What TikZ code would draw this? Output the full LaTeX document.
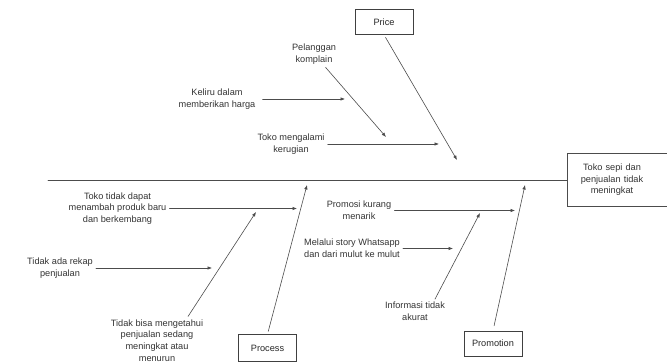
\documentclass[tikz,border=0pt]{standalone}
\usepackage{fontspec}
\setmainfont{Liberation Sans}
\usetikzlibrary{arrows.meta}

\begin{document}
\begin{tikzpicture}[x=1pt,y=-1pt,>={Latex[length=4.5pt,width=3.5pt]},
  font=\fontsize{9.2}{11.6}\selectfont,line cap=round,
  bone/.style={draw=black!70,line width=0.6pt},
  cause/.style={align=center,text=black!80,inner sep=3pt},
  catbox/.style={draw=black!75,line width=0.6pt,text=black!85,minimum width=58pt,minimum height=25pt}]
\useasboundingbox (0,0) rectangle (667,363);
% head and spine
\node[cause,text width=90pt,inner sep=0pt,minimum height=52pt] (effect) at (612,180) {Toko sepi dan\\penjualan tidak\\meningkat};
\draw[bone] ([xshift=110pt]effect.north west) -- (effect.north west) -- (effect.south west) -- ++(110,0);
\coordinate (tail) at (48,180);
\draw[bone] (tail) -- (effect.west);
% Price
\node[catbox] (price) at (384,22) {Price};
\coordinate (priceend) at (457,160);
\draw[bone,->,shorten <=3pt] (price.south) -- (priceend);
\node[cause] (pel) at (314,54) {Pelanggan\\komplain};
\node[cause] (keliru) at (217,99) {Keliru dalam\\memberikan harga};
\node[cause] (rugi) at (291,144) {Toko mengalami\\kerugian};
\coordinate (pelend) at (386,137);
\coordinate (keliruend) at (345,99);
\coordinate (rugiend) at (439,144);
\draw[bone,->] (pel) -- (pelend);
\draw[bone,->,shorten <=4pt] (keliru.east) -- (keliruend);
\draw[bone,->] (rugi.east) -- (rugiend);
% Process
\node[catbox,minimum height=27pt] (process) at (267.5,348) {Process};
\coordinate (processend) at (307,185);
\draw[bone,->,shorten <=3pt] (process.north) -- (processend);
\node[cause] (produk) at (117.5,208.5) {Toko tidak dapat\\menambah produk baru\\dan berkembang};
\node[cause] (rekap) at (60,268) {Tidak ada rekap\\penjualan};
\node[cause] (bisa) at (157,340.5) {Tidak bisa mengetahui\\penjualan sedang\\meningkat atau\\menurun};
\coordinate (produkend) at (297,208.5);
\coordinate (rekapend) at (212,268);
\coordinate (bisaend) at (256,212);
\draw[bone,->] (produk.east) -- (produkend);
\draw[bone,->] (rekap.east) -- (rekapend);
\draw[bone,->] ([xshift=31pt]bisa.north) -- (bisaend);
% Promotion
\node[catbox] (promotion) at (493,343.5) {Promotion};
\coordinate (promotionend) at (525,185);
\draw[bone,->,shorten <=5pt] (promotion.north) -- (promotionend);
\node[cause] (promosi) at (359,210.5) {Promosi kurang\\menarik};
\node[cause] (story) at (352,248.5) {Melalui story Whatsapp\\dan dari mulut ke mulut};
\node[cause] (info) at (415,311.5) {Informasi tidak\\akurat};
\coordinate (promosiend) at (515,210.5);
\coordinate (storyend) at (453,248.5);
\coordinate (infoend) at (480,213);
\draw[bone,->] (promosi.east) -- (promosiend);
\draw[bone,->] (story.east) -- (storyend);
\draw[bone,->] ([xshift=20pt]info.north) -- (infoend);
\end{tikzpicture}
\end{document}
